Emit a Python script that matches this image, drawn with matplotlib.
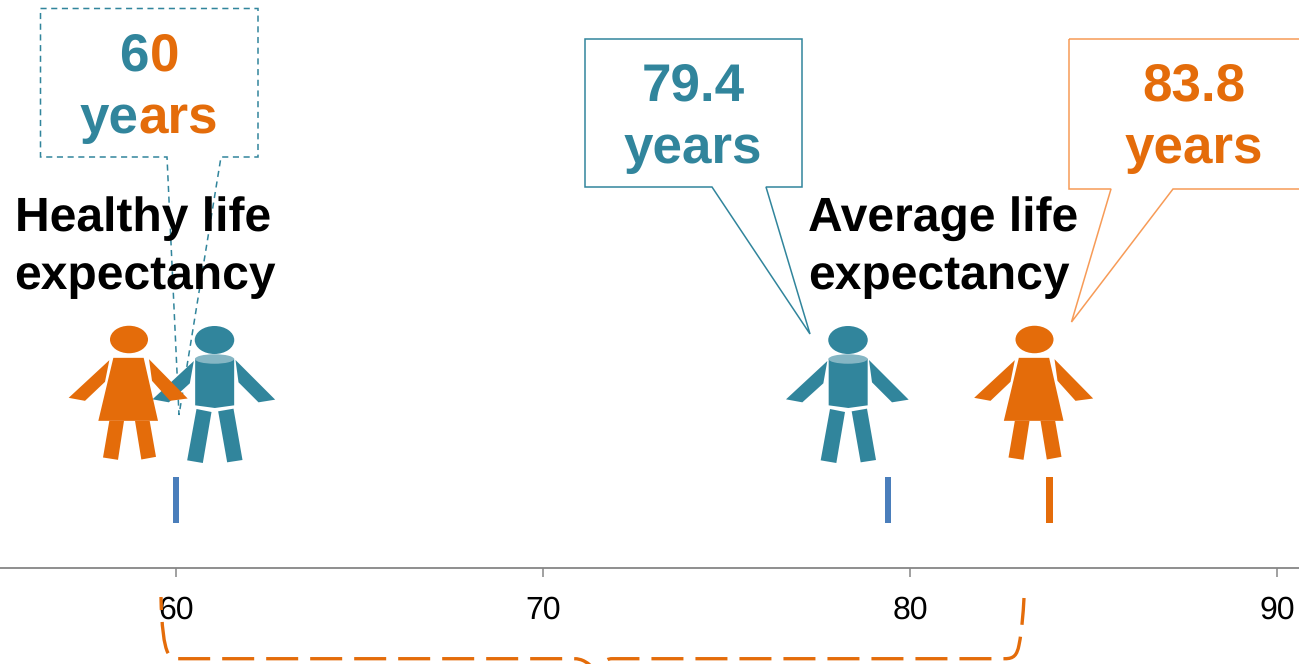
import matplotlib
matplotlib.use("Agg")
import matplotlib.pyplot as plt
from matplotlib.patches import Ellipse, Polygon, PathPatch
from matplotlib.path import Path

plt.rcParams["font.family"] = ["Liberation Sans", "DejaVu Sans"]
plt.rcParams["text.hinting"] = "no_hinting"
plt.rcParams["text.hinting_factor"] = 1

# Life expectancy values, in years
measures = ["Healthy life expectancy", "Average life expectancy (men)", "Average life expectancy (women)"]
years = [60, 79.4, 83.8]
axis_ticks = [60, 70, 80, 90]

TEAL = "#31859C"
TEAL_LIGHT = "#85B6C4"
ORANGE = "#E46C0A"
ORANGE_LINE = "#F79B57"
BLUE = "#4A7EBB"
GREY = "#868686"
W, H = 1299, 664

fig = plt.figure(figsize=(W / 100, H / 100), dpi=100, facecolor="white")

# Value axis: the baseline sits 96 px above the bottom edge
ax = fig.add_axes([0, 96 / H, 1, 568 / H])
px_per_year = 36.7
ax.set_xlim(60 - 176 / px_per_year, 60 + (W - 176) / px_per_year)
ax.set_ylim(0, 568)
ax.set_facecolor("none")
for side in ("top", "left", "right"):
    ax.spines[side].set_visible(False)
ax.spines["bottom"].set_color(GREY)
ax.spines["bottom"].set_linewidth(1.3)
ax.set_yticks([])
ax.set_xticks(axis_ticks)
ax.tick_params(axis="x", length=6.5, width=1.1, color=GREY, labelsize=22.9, pad=13, labelcolor="black")

# Markers on the axis, one per stated value
ax.bar(years, 46, bottom=45, width=6.5 / px_per_year, color=[BLUE, BLUE, ORANGE], linewidth=0)

# Illustration layer measured in canvas pixels
art = fig.add_axes([0, 0, 1, 1])
art.set_xlim(0, W)
art.set_ylim(H, 0)
art.axis("off")
art.set_facecolor("none")


def callout(x0, y0, x1, y1, base_left, base_right, tip, color, lw, ls="-"):
    pts = [(x0, y0), (x1, y0), (x1, y1), (base_right, y1), tip, (base_left, y1), (x0, y1)]
    art.add_patch(Polygon(pts, closed=True, fill=False, edgecolor=color, linewidth=lw,
                          linestyle=ls, joinstyle="miter", zorder=1))


def local(points, cx, cy, ox, oy):
    # Outlines are traced at 3x scale around the head centre
    return [(cx + (x - ox) / 3, cy + (y - oy) / 3) for x, y in points]


def man(cx, cy):
    ox, oy = 494, 120
    art.add_patch(Ellipse((cx, cy), 39.5, 28, color=TEAL, lw=0, zorder=3))
    for shape in ([(432, 183), (420, 250), (357, 307), (308, 298)],
                  [(557, 180), (566, 247), (626, 307), (676, 299)],
                  [(440, 327), (485, 336), (459, 489), (412, 481)],
                  [(505, 334), (551, 326), (578, 480), (532, 487)],
                  [(436, 176), (553, 176), (553, 316), (495, 324), (436, 316)]):
        art.add_patch(Polygon(local(shape, cx, cy, ox, oy), closed=True, color=TEAL, lw=0, zorder=3))
    art.add_patch(Ellipse((cx, cy + 19), 39, 9.5, color=TEAL_LIGHT, lw=0, zorder=3))


def woman(cx, cy):
    ox, oy = 237, 118
    art.add_patch(Ellipse((cx, cy), 38, 27.5, color=ORANGE, lw=0, zorder=4))
    for shape in ([(190, 173), (281, 173), (324, 362), (145, 362)],
                  [(178, 180), (165, 245), (105, 302), (56, 293)],
                  [(297, 177), (306, 242), (360, 302), (413, 295)],
                  [(178, 362), (222, 362), (204, 479), (159, 472)],
                  [(255, 362), (299, 362), (318, 470), (274, 478)]):
        art.add_patch(Polygon(local(shape, cx, cy, ox, oy), closed=True, color=ORANGE, lw=0, zorder=4))


callout(40.5, 8.5, 258, 157, 167, 221, (179, 415), TEAL, 1.1, (0, (4, 3)))
callout(585, 39, 802, 187, 712, 766, (810, 334), TEAL, 1.1)
callout(1069, 39, 1320, 189, 1111, 1173, (1071.5, 322), ORANGE_LINE, 1.1)

man(214.5, 340)
woman(129, 339.5)
man(848, 340)
woman(1034.5, 339.5)

big = dict(fontsize=38, fontweight="bold", va="baseline", zorder=5)
art.text(119, 70, "6", color=TEAL, ha="left", **big)
art.text(149.5, 70, "0", color=ORANGE, ha="left", **big)
art.text(79.5, 133, "ye", color=TEAL, ha="left", **big)
art.text(138.5, 133, "ars", color=ORANGE, ha="left", **big)
art.text(693, 100, "79.4", color=TEAL, ha="center", **big)
art.text(693, 163, "years", color=TEAL, ha="center", **big)
art.text(1194, 100, "83.8", color=ORANGE, ha="center", **big)
art.text(1194, 163, "years", color=ORANGE, ha="center", **big)

head = dict(fontsize=34.3, fontweight="bold", color="black", ha="left", va="baseline", zorder=5)
art.text(15, 231, "Healthy life", **head)
art.text(14, 289, "expectancy", **head)
art.text(808, 231, "Average life", **head)
art.text(808, 289, "expectancy", **head)

# Dashed brace under the axis, its point running off the lower edge
verts = [(161, 597),
         (161.5, 625), (164, 646), (168, 653),
         (170, 657), (174, 658.7), (180, 658.7),
         (574, 658.7),
         (582, 658.7), (588, 662), (597, 672),
         (597, 672),
         (600, 666), (604, 658.7), (612, 658.7),
         (1005, 658.7),
         (1014, 658.7), (1017, 655), (1019, 645),
         (1022, 630), (1023, 615), (1024, 598)]
codes = [Path.MOVETO,
         Path.CURVE4, Path.CURVE4, Path.CURVE4,
         Path.CURVE4, Path.CURVE4, Path.CURVE4,
         Path.LINETO,
         Path.CURVE4, Path.CURVE4, Path.CURVE4,
         Path.LINETO,
         Path.CURVE4, Path.CURVE4, Path.CURVE4,
         Path.LINETO,
         Path.CURVE4, Path.CURVE4, Path.CURVE4,
         Path.CURVE4, Path.CURVE4, Path.CURVE4]
art.add_patch(PathPatch(Path(verts, codes), fill=False, edgecolor=ORANGE, linewidth=2.4,
                        linestyle=(5.7, (9.6, 3.6)), capstyle="butt", zorder=6, clip_on=True))

fig.savefig("out.png", dpi=100, facecolor="white")
